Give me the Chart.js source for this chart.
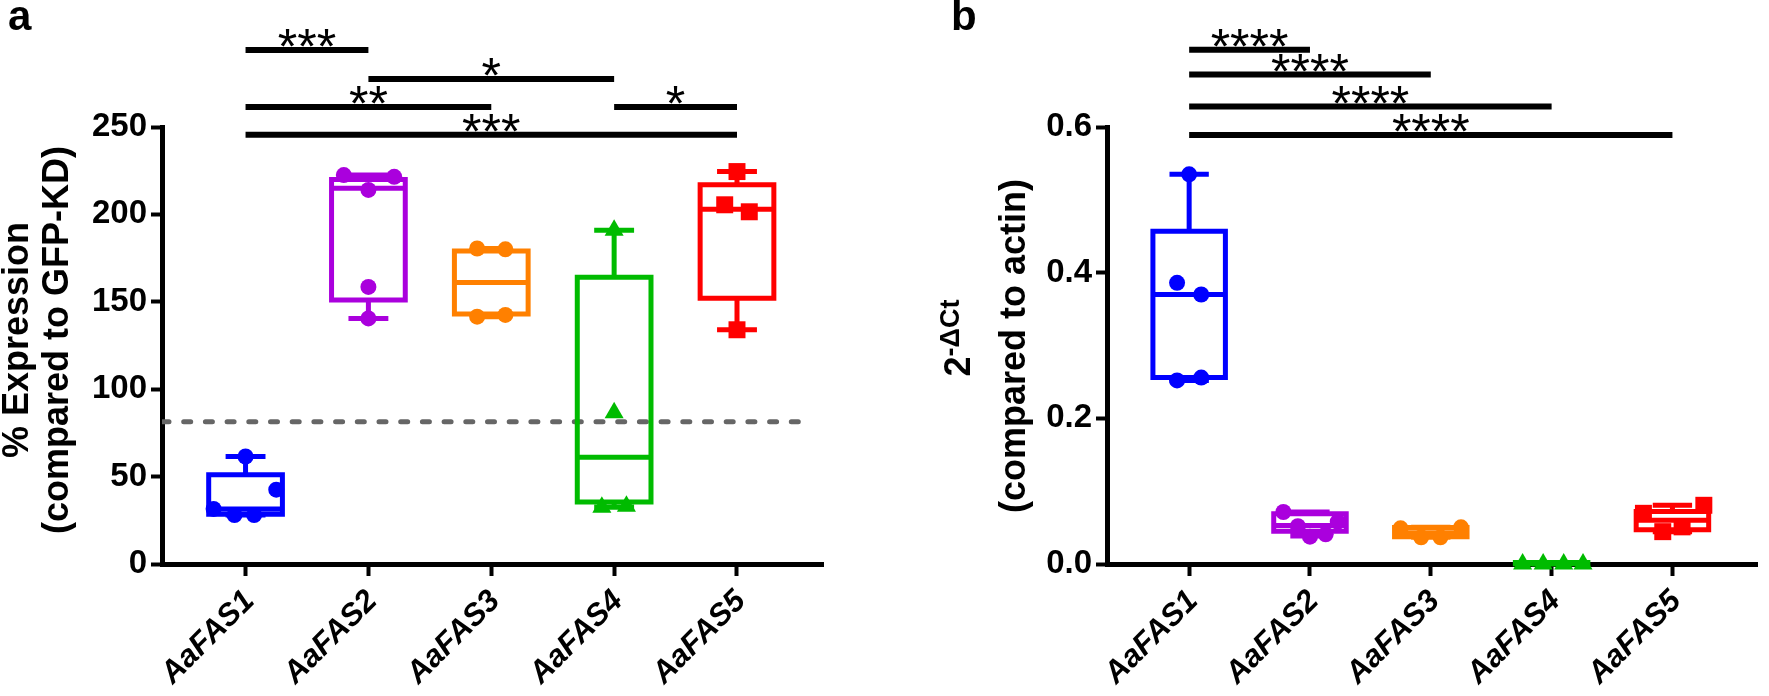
<!DOCTYPE html>
<html>
<head>
<meta charset="utf-8">
<script src="https://cdn.jsdelivr.net/npm/chart.js@4.4.1/dist/chart.umd.min.js"></script>
<style>
  html, body { margin: 0; padding: 0; background: #fff; }
  #wrap { position: relative; width: 1769px; height: 696px; overflow: hidden; }
  canvas { position: absolute; top: 0; }
  #chartA { left: 0; }
  #chartB { left: 880px; }
</style>
</head>
<body>
<div id="wrap">
  <canvas id="chartA" width="880" height="696"></canvas>
  <canvas id="chartB" width="889" height="696"></canvas>
</div>
<script>
// categories, colours, markers
const genes = ["AaFAS1", "AaFAS2", "AaFAS3", "AaFAS4", "AaFAS5"];
const colors = ["#0000ff", "#aa00dd", "#ff8000", "#00bb00", "#ff0000"];
const markers = ["circle", "circle", "circle", "triangle", "rect"];
const markerSize = [8, 8, 8, 11, 12];

// panel a - % expression (box stats)
const aQ1 = [28.5, 151, 143, 35.5, 152];
const aMedian = [31.5, 215, 161, 61, 203];
const aQ3 = [51, 220, 179, 164, 217];
const aMin = [28, 140.5, 141.5, 32.5, 134];
const aMax = [61.5, 222.5, 180.5, 191, 224.5];
const aPoints = [
  [61.5, 42.5, 31.5, 28, 28],
  [222.5, 221.5, 214, 158.5, 140.5],
  [180.5, 180, 141.5, 142.5],
  [191, 86.5, 32.5, 33],
  [224.5, 205.5, 201.5, 134]
];
const aJitter = [
  [0, 0.25, -0.26, -0.09, 0.07],
  [-0.2, 0.21, 0, 0, 0],
  [-0.115, 0.115, -0.115, 0.115],
  [0, 0, -0.1, 0.1],
  [0, -0.1, 0.1, 0]
];
const aRefLevel = 81.4;
const aTicks = [0, 50, 100, 150, 200, 250];
const aSigFrom = [1, 2, 1, 4, 1];
const aSigTo = [2, 4, 3, 5, 5];
const aSigLevel = [294, 277.5, 261.5, 261.5, 245.5];
const aSigText = ["***", "*", "**", "*", "***"];

// panel b - 2^-dCt compared to actin
const bQ1 = [0.256, 0.045, 0.0375, 0.0005, 0.047];
const bMedian = [0.37, 0.053, 0.043, 0.001, 0.06];
const bQ3 = [0.457, 0.069, 0.05, 0.002, 0.072];
const bMin = [0.252, 0.0385, 0.0367, 0, 0.0444];
const bMax = [0.535, 0.0714, 0.0504, 0.002, 0.0806];
const bPoints = [
  [0.535, 0.386, 0.37, 0.252, 0.256],
  [0.0714, 0.058, 0.052, 0.0408, 0.0375],
  [0.049, 0.0504, 0.0367, 0.0367],
  [0, 0, 0, 0],
  [0.0806, 0.0696, 0.0444, 0.051]
];
const bJitter = [
  [0, -0.1, 0.1, -0.1, 0.1],
  [-0.22, 0.23, -0.1, 0.13, 0],
  [-0.25, 0.25, -0.08, 0.08],
  [-0.24, -0.07, 0.1, 0.26],
  [0.26, -0.24, -0.08, 0.08]
];
const bTicks = [0, 0.2, 0.4, 0.6];
const bSigFrom = [1, 1, 1, 1];
const bSigTo = [2, 3, 4, 5];
const bSigLevel = [0.706, 0.672, 0.628, 0.589];
const bSigText = ["****", "****", "****", "****"];

const FONT = '"Liberation Sans", Arial, Helvetica, sans-serif';
Chart.defaults.font.family = FONT;
Chart.defaults.color = "#000";

// outline of one box + median + whiskers, gaps split the segments
function boxData(i, q1, med, q3, lo, hi) {
  const x = i + 1, w = 0.3, c = 0.142;
  const gap = { x: x, y: null };
  return [
    { x: x - w, y: q1 }, { x: x + w, y: q1 }, { x: x + w, y: q3 }, { x: x - w, y: q3 }, { x: x - w, y: q1 }, gap,
    { x: x - w, y: med }, { x: x + w, y: med }, gap,
    { x: x, y: q3 }, { x: x, y: hi }, gap,
    { x: x - c, y: hi }, { x: x + c, y: hi }, gap,
    { x: x, y: q1 }, { x: x, y: lo }, gap,
    { x: x - c, y: lo }, { x: x + c, y: lo }
  ];
}

function buildDatasets(q1, med, q3, lo, hi, pts, jit) {
  const sets = [];
  genes.forEach((g, i) => {
    sets.push({
      label: g,
      data: pts[i].map((v, j) => ({ x: i + 1 + jit[i][j], y: v })),
      pointStyle: markers[i],
      pointRadius: markerSize[i],
      backgroundColor: colors[i],
      borderColor: colors[i],
      borderWidth: 0,
      order: 0,
      clip: false
    });
    sets.push({
      label: g + " box",
      data: boxData(i, q1[i], med[i], q3[i], lo[i], hi[i]),
      showLine: true,
      borderColor: colors[i],
      borderWidth: 5,
      borderJoinStyle: "miter",
      borderCapStyle: "square",
      pointRadius: 0,
      spanGaps: false,
      tension: 0,
      order: 1,
      clip: false
    });
  });
  return sets;
}

function drawVertical(ctx, parts, bx, cy) {
  // parts drawn bottom-to-top, centred on cy
  ctx.save();
  ctx.translate(bx, cy);
  ctx.rotate(-Math.PI / 2);
  ctx.textAlign = "left";
  ctx.textBaseline = "alphabetic";
  let total = 0;
  parts.forEach(p => { ctx.font = p.font; total += ctx.measureText(p.text).width; });
  let x = -total / 2;
  parts.forEach(p => {
    ctx.font = p.font;
    ctx.fillText(p.text, x, -(p.raise || 0));
    x += ctx.measureText(p.text).width;
  });
  ctx.restore();
}

function overlay(cfg) {
  return {
    id: "overlay",
    afterDraw(chart) {
      const { ctx } = chart;
      const xs = chart.scales.x, ys = chart.scales.y;
      ctx.save();
      ctx.fillStyle = "#000";
      ctx.strokeStyle = "#000";
      // significance bars
      ctx.lineWidth = 6;
      ctx.lineCap = "butt";
      ctx.font = "50px " + FONT;
      ctx.textAlign = "center";
      ctx.textBaseline = "alphabetic";
      cfg.sigFrom.forEach((f, k) => {
        const x1 = xs.getPixelForValue(f);
        const x2 = xs.getPixelForValue(cfg.sigTo[k]);
        const py = ys.getPixelForValue(cfg.sigLevel[k]);
        ctx.beginPath();
        ctx.moveTo(x1, py);
        ctx.lineTo(x2, py);
        ctx.stroke();
        ctx.fillText(cfg.sigText[k], (x1 + x2) / 2, py + 14);
      });
      // panel letter
      ctx.font = "bold 42px " + FONT;
      ctx.textAlign = "left";
      ctx.fillText(cfg.letter, cfg.letterX, 30);
      // y axis title lines
      cfg.titles.forEach(t => drawVertical(ctx, t.parts, t.x, t.cy));
      ctx.restore();
    }
  };
}

function makeChart(id, cfg) {
  return new Chart(document.getElementById(id), {
    type: "scatter",
    data: { datasets: cfg.datasets },
    options: {
      responsive: false,
      animation: false,
      devicePixelRatio: 1,
      events: [],
      layout: { padding: { left: 0, top: 127, right: cfg.padRight, bottom: 0 } },
      plugins: { legend: { display: false }, tooltip: { enabled: false } },
      scales: {
        x: {
          type: "linear",
          min: 0.32,
          max: 5.7,
          afterBuildTicks: s => { s.ticks = genes.map((g, i) => ({ value: i + 1 })); },
          afterFit: s => { s.height = 132; s.paddingLeft = 0; s.paddingRight = 0; },
          ticks: {
            autoSkip: false,
            minRotation: 45,
            maxRotation: 45,
            padding: 7,
            labelOffset: 4,
            color: "#000",
            font: { size: 31, weight: "bold", style: "italic" },
            callback: (v, i) => genes[i]
          },
          grid: { drawOnChartArea: false, drawTicks: true, tickLength: 12, tickWidth: 4, tickColor: "#000" },
          border: { display: true, width: 5, color: "#000" }
        },
        y: {
          type: "linear",
          min: cfg.yMin,
          max: cfg.yMax,
          afterBuildTicks: s => { s.ticks = cfg.ticks.map(v => ({ value: v })); },
          afterFit: s => { s.width = cfg.yWidth; s.paddingTop = 0; s.paddingBottom = 0; },
          ticks: {
            padding: 4,
            color: "#000",
            font: { size: 33, weight: "bold" },
            callback: cfg.tickFmt
          },
          grid: { drawOnChartArea: false, drawTicks: true, tickLength: 11, tickWidth: 4, tickColor: "#000" },
          border: { display: true, width: 5, color: "#000" }
        }
      }
    },
    plugins: [overlay(cfg)]
  });
}

// panel a
const aSets = buildDatasets(aQ1, aMedian, aQ3, aMin, aMax, aPoints, aJitter);
aSets.push({
  label: "GFP-KD level",
  data: [{ x: 0.32, y: aRefLevel }, { x: 5.55, y: aRefLevel }],
  showLine: true,
  borderColor: "#666666",
  borderWidth: 5,
  borderDash: [7, 14.7],
  borderCapStyle: "round",
  pointRadius: 0,
  order: 2
});
makeChart("chartA", {
  datasets: aSets,
  padRight: 57,
  yMin: 0, yMax: 250, yWidth: 162,
  ticks: aTicks,
  tickFmt: v => String(v),
  sigFrom: aSigFrom, sigTo: aSigTo, sigLevel: aSigLevel, sigText: aSigText,
  letter: "a", letterX: 8,
  titles: [
    { x: 28, cy: 340, parts: [{ text: "% Expression", font: "bold 36px " + FONT }] },
    { x: 68, cy: 340, parts: [{ text: "(compared to GFP-KD)", font: "bold 36px " + FONT }] }
  ]
});

// panel b
makeChart("chartB", {
  datasets: buildDatasets(bQ1, bMedian, bQ3, bMin, bMax, bPoints, bJitter),
  padRight: 0,
  yMin: 0, yMax: 0.6, yWidth: 227,
  ticks: bTicks,
  tickFmt: v => v.toFixed(1),
  sigFrom: bSigFrom, sigTo: bSigTo, sigLevel: bSigLevel, sigText: bSigText,
  letter: "b", letterX: 71,
  titles: [
    { x: 90, cy: 338, parts: [
      { text: "2", font: "bold 36px " + FONT },
      { text: "-\u0394Ct", font: "bold 27px " + FONT, raise: 11 }
    ] },
    { x: 145, cy: 346, parts: [{ text: "(compared to actin)", font: "bold 36px " + FONT }] }
  ]
});
</script>
</body>
</html>
